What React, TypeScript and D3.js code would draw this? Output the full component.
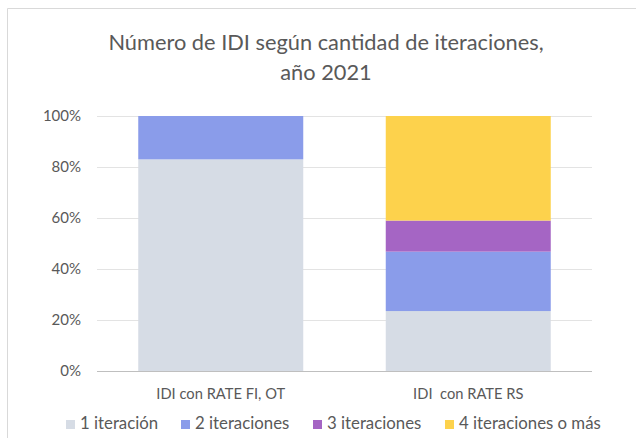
import { useEffect, useRef } from 'react';
import * as d3 from 'd3';

const categorias = ['IDI con RATE FI, OT', 'IDI  con RATE RS'];
const series = ['1 iteración', '2 iteraciones', '3 iteraciones', '4 iteraciones o más'];
const colores = ['#D6DCE5', '#8A9CEA', '#A565C4', '#FDD24C'];
// porcentaje de cada serie por categoría
const unaIteracion = [83, 23.5];
const dosIteraciones = [17, 23.3];
const tresIteraciones = [0, 12.2];
const cuatroOMas = [0, 41];
const ticksY = [0, 0.2, 0.4, 0.6, 0.8, 1];

const FONT = 'Lato, "Open Sans", sans-serif';
const TEXTO = '#595959';

export default function App() {
  const ref = useRef<SVGSVGElement>(null);

  useEffect(() => {
    const width = 636, height = 438;
    const margin = { top: 116, right: 44, bottom: 67, left: 97 };
    const svg = d3.select(ref.current);
    svg.selectAll('*').remove();
    svg.attr('width', width).attr('height', height);

    const filas = categorias.map((c, i) => {
      const vals = [unaIteracion[i], dosIteraciones[i], tresIteraciones[i], cuatroOMas[i]];
      const total = d3.sum(vals);
      const o: any = { categoria: c };
      series.forEach((s, j) => (o[s] = vals[j] / total));
      return o;
    });
    const stack = d3.stack().keys(series)(filas);

    const x = d3.scaleBand().domain(categorias).range([margin.left, width - margin.right])
      .paddingInner(1 / 3).paddingOuter(1 / 6);
    const y = d3.scaleLinear().domain([0, 1]).range([height - margin.bottom, margin.top]);
    const color = d3.scaleOrdinal<string>().domain(series).range(colores);

    // marco
    svg.append('path')
      .attr('d', `M7.5,${height} V8.5 H${width}`)
      .attr('fill', 'none').attr('stroke', '#d9d9d9');

    // título
    const titulo = svg.append('text')
      .attr('text-anchor', 'middle').attr('fill', TEXTO)
      .style('font-family', FONT).style('font-size', '21.8px');
    titulo.append('tspan').attr('x', 326).attr('y', 50).text('Número de IDI según cantidad de iteraciones,');
    titulo.append('tspan').attr('x', 326).attr('y', 80).text('año 2021');

    // rejilla
    svg.append('g')
      .selectAll('line')
      .data(ticksY.slice(1))
      .join('line')
      .attr('x1', margin.left).attr('x2', width - margin.right)
      .attr('y1', d => Math.round(y(d)) + 0.5).attr('y2', d => Math.round(y(d)) + 0.5)
      .attr('stroke', '#e3e3e3');

    svg.append('g')
      .selectAll('g')
      .data(stack)
      .join('g')
      .attr('fill', d => color(d.key))
      .selectAll('rect')
      .data(d => d)
      .join('rect')
      .attr('x', d => x(d.data.categoria as any)!)
      .attr('y', d => y(d[1]))
      .attr('width', x.bandwidth())
      .attr('height', d => y(d[0]) - y(d[1]));

    // eje x
    svg.append('line')
      .attr('x1', margin.left).attr('x2', width - margin.right)
      .attr('y1', Math.round(y(0)) + 0.5).attr('y2', Math.round(y(0)) + 0.5)
      .attr('stroke', '#bfbfbf');

    svg.append('g')
      .selectAll('text')
      .data(categorias)
      .join('text')
      .attr('x', d => x(d)! + x.bandwidth() / 2)
      .attr('y', 399)
      .attr('text-anchor', 'middle').attr('fill', TEXTO)
      .style('font-family', FONT).style('font-size', '14.7px')
      .style('white-space', 'pre')
      .text(d => d);

    // eje y
    svg.append('g')
      .selectAll('text')
      .data(ticksY)
      .join('text')
      .attr('x', 81)
      .attr('y', d => y(d) + 5)
      .attr('text-anchor', 'end').attr('fill', TEXTO)
      .style('font-family', FONT).style('font-size', '15px')
      .text(d => d3.format('.0%')(d));

    // leyenda
    const posLeyenda = [66, 181, 313, 445];
    const ley = svg.append('g')
      .selectAll('g')
      .data(series)
      .join('g')
      .attr('transform', (d, i) => `translate(${posLeyenda[i]},429)`);
    ley.append('rect')
      .attr('x', 0).attr('y', -9).attr('width', 9).attr('height', 9)
      .attr('fill', d => color(d));
    ley.append('text')
      .attr('x', 14).attr('y', 0).attr('fill', TEXTO)
      .style('font-family', FONT).style('font-size', '16.8px')
      .text(d => d);
  }, []);

  return (
    <div>
      <svg ref={ref} style={{ position: 'absolute', left: 0, top: 0 }}></svg>
    </div>
  );
}
